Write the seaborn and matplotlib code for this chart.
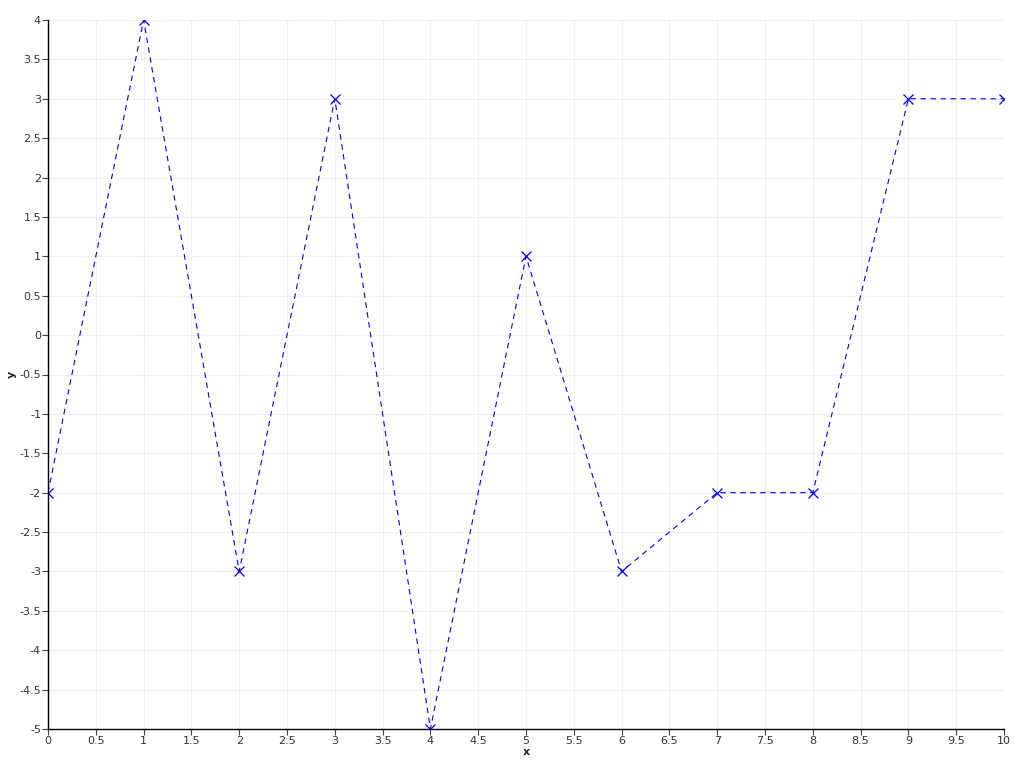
import matplotlib
matplotlib.use("Agg")
import matplotlib.pyplot as plt
import numpy as np
import pandas as pd
import seaborn as sns

# Data
x_vals = [0, 1, 2, 3, 4, 5, 6, 7, 8, 9, 10]
y_vals = [-2, 4, -3, 3, -5, 1, -3, -2, -2, 3, 3]

df = pd.DataFrame({"x": x_vals, "y": y_vals})

sns.set_theme(style="white")
plt.rcParams["font.family"] = ["DejaVu Sans"]

fig = plt.figure(figsize=(10.24, 7.68), dpi=100)
ax = fig.add_axes([48 / 1024, 1 - 729 / 768, (1004 - 48) / 1024, (729 - 20) / 768])

sns.lineplot(
    data=df,
    x="x",
    y="y",
    ax=ax,
    color="blue",
    linestyle=(0, (5, 4)),
    linewidth=0.8,
    marker="x",
    markersize=7,
    markeredgewidth=0.9,
    markeredgecolor="blue",
)

ax.set_xlim(0, 10)
ax.set_ylim(-5, 4)
ticks_x = np.arange(0, 10.01, 0.5)
ticks_y = np.arange(-5, 4.01, 0.5)
ax.set_xticks(ticks_x)
ax.set_yticks(ticks_y)
ax.set_xticklabels([f"{v:g}" for v in ticks_x])
ax.set_yticklabels([f"{v:g}" for v in ticks_y])

ax.grid(True, color="#f0f0f0", linewidth=0.8)
ax.set_axisbelow(True)

for side in ["top", "right"]:
    ax.spines[side].set_visible(False)
for side in ["left", "bottom"]:
    ax.spines[side].set_color("black")
    ax.spines[side].set_linewidth(1.0)

ax.tick_params(
    axis="both",
    which="major",
    direction="out",
    length=4,
    width=0.8,
    color="#444444",
    labelsize=8,
    labelcolor="#333333",
    pad=1,
    bottom=True,
    left=True,
)

ax.set_xlabel("x", fontsize=8, fontweight="bold", labelpad=1)
ax.set_ylabel("y", fontsize=8, fontweight="bold", labelpad=2)

fig.savefig("out.png", dpi=100)
plt.close(fig)
